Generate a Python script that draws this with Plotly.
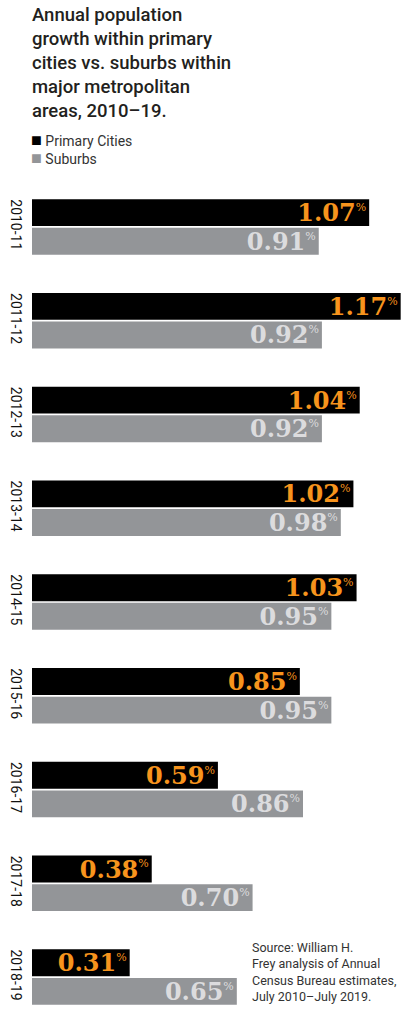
import plotly.graph_objects as go

# Annual population growth (%)
periods = ["2010-11", "2011-12", "2012-13", "2013-14", "2014-15",
           "2015-16", "2016-17", "2017-18", "2018-19"]
primary_cities = [1.07, 1.17, 1.04, 1.02, 1.03, 0.85, 0.59, 0.38, 0.31]
suburbs = [0.91, 0.92, 0.92, 0.98, 0.95, 0.95, 0.86, 0.70, 0.65]

title_text = ("Annual population<br>growth within primary<br>cities vs. suburbs within"
              "<br>major metropolitan<br>areas, 2010\u201319.")
source_text = ("Source: William H.<br>Frey analysis of Annual<br>"
               "Census Bureau estimates,<br>July 2010\u2013July 2019.")

SANS = "Roboto, sans-serif"
SERIF = "DejaVu Serif, Liberation Serif, serif"
BLACK = "#000000"
GRAY = "#939598"

label_tpl = "<b>%{x:.2f}</b><sup><span style='font-size:11px'>%</span></sup>"

fig = go.Figure()
fig.add_trace(go.Bar(
    y=periods, x=primary_cities, orientation="h", name="Primary Cities",
    marker=dict(color=BLACK, line=dict(width=0)),
    texttemplate=label_tpl, textposition="inside", insidetextanchor="end",
    constraintext="none",
    textfont=dict(family=SERIF, size=24, color="#f7941d"),
    hoverinfo="x+name",
))
fig.add_trace(go.Bar(
    y=periods, x=suburbs, orientation="h", name="Suburbs",
    marker=dict(color=GRAY, line=dict(width=0)),
    texttemplate=label_tpl, textposition="inside", insidetextanchor="end",
    constraintext="none",
    textfont=dict(family=SERIF, size=24, color="#dcdcde"),
    hoverinfo="x+name",
))

# legend swatches are drawn as text squares so they sit right next to the labels
legend_text = ("<span style='color:#000000;font-size:18px'>\u25a0</span> Primary Cities<br>"
               "<span style='color:#939598;font-size:18px'>\u25a0</span> Suburbs")

annotations = [
    dict(text=title_text, xref="paper", yref="paper", x=-0.005, y=1.0 + 178 / 844,
         xanchor="left", yanchor="top", align="left", showarrow=False,
         font=dict(family=SANS, size=18.5, weight=500, color="#231f20")),
    dict(text=legend_text, xref="paper", yref="paper", x=-0.008, y=1.0 + 32 / 844,
         xanchor="left", yanchor="middle", align="left", showarrow=False,
         font=dict(family=SANS, size=14, color="#333333")),
    dict(text=source_text, xref="paper", yref="paper", x=0.59, y=(1024 - 938) / 844,
         xanchor="left", yanchor="top", align="left", showarrow=False,
         font=dict(family=SANS, size=12.5, color="#333333")),
]

fig.update_layout(
    width=401, height=1024,
    margin=dict(l=32, r=0, t=180, b=0),
    barmode="group", bargap=0.39, bargroupgap=0.06,
    plot_bgcolor="white", paper_bgcolor="white",
    showlegend=False,
    uniformtext=dict(minsize=24, mode="show"),
    annotations=annotations,
    xaxis=dict(range=[0, 1.171], visible=False, fixedrange=True),
    yaxis=dict(type="category", autorange="reversed", automargin=False,
               tickangle=90, showgrid=False, zeroline=False,
               showline=False, ticks="", ticklabelstandoff=6,
               tickfont=dict(family=SANS, size=14, color="#111111")),
)

fig.write_html("out.html", config={"displayModeBar": False},
               post_script="document.body.style.margin='0';")
